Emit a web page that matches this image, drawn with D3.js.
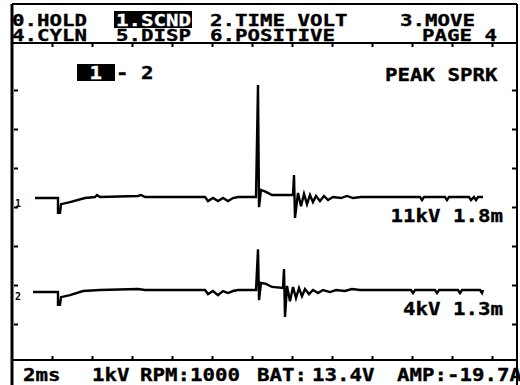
<!DOCTYPE html>
<html>
<head>
<meta charset="utf-8">
<script src="https://cdn.jsdelivr.net/npm/d3@7"></script>
<style>
  html, body { margin: 0; padding: 0; background: #fff; }
  svg { display: block; }
  text { font-family: "DejaVu Sans Mono", "Liberation Mono", monospace; font-weight: bold; }
</style>
</head>
<body>
<svg id="scope" width="520" height="385"></svg>
<script>
// Secondary ignition scope: cylinders 1 and 2, time in ms, voltage in kV
const cylinders = ["1", "2"];

const cyl1Time = [1.15, 2.3, 2.3, 2.4, 2.45, 2.9, 3.65, 4.15, 4.25, 4.4, 6.3, 6.45, 6.65, 9.65, 9.8, 10.05, 10.3, 10.55, 10.8, 11.05, 11.3, 12.2,
  12.3, 12.35, 12.45, 12.7, 13.0, 14.05, 14.1, 14.15, 14.3, 14.45, 14.6, 14.75, 14.9, 15.05, 15.2, 15.4, 15.6, 15.8, 16.05, 16.45, 16.75, 17.05, 17.45,
  20.4, 20.5, 20.6, 21.65, 21.75, 21.85, 22.85, 22.95, 23.1, 23.2, 23.3, 23.55];
const cyl1KV = [-0.1, -0.1, -1.55, -1.55, -0.7, -0.5, -0.1, 0, 0.2, 0, 0.1, 0.2, 0, 0, -0.4, -0.1, -0.4, -0.1, -0.4, -0.1, 0, 0,
  11, -1.0, 0.7, 0.5, 0.2, 0.2, 2.15, -2.05, 0.4, -0.9, 0.3, -0.7, 0.2, -0.5, 0.1, -0.4, 0.1, -0.3, 0, -0.1, 0.1, -0.1, 0,
  0, -0.3, 0, 0, -0.3, 0, 0, -0.3, 0, -0.3, 0, 0];

const cyl2Time = [1.05, 2.3, 2.3, 2.4, 2.45, 2.9, 3.55, 4.4, 6.3, 6.65, 9.65, 9.8, 10.05, 10.3, 10.55, 10.8, 11.05, 11.3, 12.2,
  12.3, 12.35, 12.45, 12.7, 13.0, 13.55, 13.6, 13.65, 13.75, 13.9, 14.05, 14.2, 14.35, 14.5, 14.65, 14.85, 15.05, 15.3, 15.55, 15.9, 16.2, 16.65, 17.0, 17.4,
  19.95, 20.05, 20.15, 21.15, 21.25, 21.35, 22.3, 22.4, 22.5, 23.4, 23.5, 23.55];
const cyl2KV = [-0.2, -0.2, -1.45, -1.45, -0.7, -0.5, -0.1, 0, 0.1, 0, 0, -0.4, -0.1, -0.5, -0.1, -0.3, -0.1, 0, 0,
  4, -1.0, 0.7, 0.6, 0.3, 0.2, 2.05, -2.65, 0.4, -1.1, 0.3, -0.8, 0.2, -0.6, 0.1, -0.4, 0, -0.3, 0, -0.2, 0, -0.1, 0.1, 0,
  0, -0.3, 0, 0, -0.3, 0, 0, -0.3, 0, 0, -0.3, 0];

// Spark burn durations (ms)
const burnMs = [1.8, 1.3];

// Menu and status text
const menuRow1 = ["0.HOLD", "1.SCND", "2.TIME VOLT", "3.MOVE"];
const menuRow2 = ["4.CYLN", "5.DISP", "6.POSITIVE", "PAGE 4"];
const statusItems = ["2ms", "1kV", "RPM:1000", "BAT:", "13.4V", "AMP:-19.7A"];
const modeLabel = "PEAK SPRK";

const W = 520, H = 385;
const frame = { left: 12, right: 517, top: 43, bottom: 360, headTop: 4 };
const pitch = 12.5;           // character cell width
const fontSize = 18;

const svg = d3.select("#scope");
svg.append("rect").attr("width", W).attr("height", H).attr("fill", "#fff");

// scales
const x = d3.scaleLinear().domain([0, 25.25]).range([frame.left, frame.right]);
const kv = d3.scaleLinear().domain([0, 11]).range([0, -112]);
const lane = d3.scalePoint().domain(cylinders).range([197, 290]);
const vdiv = d3.scaleLinear().domain([0, 8]).range([51, 363]);

// text helper with fixed cell width, heavy LCD-style strokes
function label(g, str, px, py, opts = {}) {
  const fill = opts.fill || "#000";
  return g.append("text")
    .attr("x", px).attr("y", py)
    .attr("font-size", opts.size || fontSize)
    .attr("textLength", str.length * (opts.pitch || pitch))
    .attr("lengthAdjust", "spacingAndGlyphs")
    .attr("fill", fill)
    .attr("stroke", fill).attr("stroke-width", 0.35)
    .text(str);
}

// header menu
const head = svg.append("g");
head.append("rect")
  .attr("x", 114).attr("y", 11).attr("width", 78).attr("height", 17)
  .attr("fill", "#000");
const row1X = [12, 116, 210, 400];
const row2X = [12, 116, 210, 422];
menuRow1.forEach((s, i) => label(head, s, row1X[i], 25.5, { size: 16.5, fill: i === 1 ? "#fff" : "#000" }));
menuRow2.forEach((s, i) => label(head, s, row2X[i], 41, { size: 16.5 }));

// frame lines
const lines = svg.append("g").attr("stroke", "#000").attr("fill", "none");
lines.append("line").attr("x1", frame.left).attr("x2", frame.right)
  .attr("y1", frame.headTop).attr("y2", frame.headTop).attr("stroke-width", 2);
lines.append("line").attr("x1", frame.left).attr("x2", frame.right)
  .attr("y1", frame.top).attr("y2", frame.top).attr("stroke-width", 2);
lines.append("line").attr("x1", frame.left).attr("x2", frame.right)
  .attr("y1", frame.bottom).attr("y2", frame.bottom).attr("stroke-width", 2);
lines.append("line").attr("x1", frame.left).attr("x2", frame.left)
  .attr("y1", frame.headTop).attr("y2", H).attr("stroke-width", 3);
lines.append("line").attr("x1", frame.right).attr("x2", frame.right)
  .attr("y1", frame.headTop).attr("y2", H).attr("stroke-width", 2);

// division ticks
const divTicks = d3.range(2, 25, 2);
svg.append("g").attr("transform", `translate(0,${frame.top + 1})`)
  .call(d3.axisBottom(x).tickValues(divTicks).tickSize(3).tickFormat(""))
  .call(g => g.select(".domain").remove())
  .selectAll("line").attr("stroke-width", 2);
svg.append("g").attr("transform", `translate(0,${frame.bottom - 1})`)
  .call(d3.axisTop(x).tickValues(divTicks).tickSize(3).tickFormat(""))
  .call(g => g.select(".domain").remove())
  .selectAll("line").attr("stroke-width", 2);
svg.append("g").attr("transform", `translate(${frame.left + 2},0)`)
  .call(d3.axisRight(vdiv).tickValues(d3.range(1, 8)).tickSize(4).tickFormat(""))
  .call(g => g.select(".domain").remove())
  .selectAll("line").attr("stroke-width", 2);
svg.append("g").attr("transform", `translate(${frame.right - 1},0)`)
  .call(d3.axisLeft(vdiv).tickValues(d3.range(1, 8)).tickSize(4).tickFormat(""))
  .call(g => g.select(".domain").remove())
  .selectAll("line").attr("stroke-width", 2);

// cylinder selector and mode
const sel = svg.append("g");
sel.append("rect").attr("x", 77).attr("y", 64).attr("width", 38).attr("height", 17).attr("fill", "#000");
label(sel, "1", 89.5, 79, { fill: "#fff" });
label(sel, "- 2", 116, 79);
label(sel, modeLabel, 385, 81);

// traces
const traces = [
  { id: cylinders[0], t: cyl1Time, v: cyl1KV, burn: burnMs[0] },
  { id: cylinders[1], t: cyl2Time, v: cyl2KV, burn: burnMs[1] }
];
const line = d3.line().x(d => x(d[0])).y(d => kv(d[1]));

traces.forEach(tr => {
  const g = svg.append("g").attr("transform", `translate(0,${lane(tr.id)})`);
  const pts = tr.t.map((t, i) => [t, tr.v[i]]);
  g.append("path").datum(pts)
    .attr("d", line)
    .attr("fill", "none").attr("stroke", "#000")
    .attr("stroke-width", 2.4).attr("stroke-linejoin", "miter");
  // channel marker at the left edge
  g.append("text").attr("x", 15).attr("y", 10).attr("font-size", 10).attr("fill", "#000").text(tr.id);
  // peak and burn time readout
  const peak = d3.max(tr.v);
  const txt = `${peak}kV ${tr.burn.toFixed(1)}m`;
  label(g, txt, 503 - txt.length * pitch, kv(-2.45));
});

// status bar
const statusX = [23, 92, 140, 257, 312, 397];
statusItems.forEach((s, i) => label(svg, s, statusX[i], 380.5));
</script>
</body>
</html>
